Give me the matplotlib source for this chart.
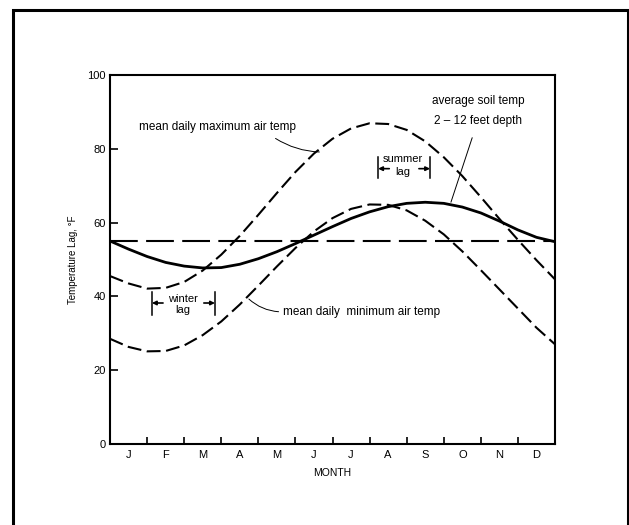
import matplotlib
matplotlib.use("Agg")
import matplotlib.pyplot as plt
from matplotlib.patches import Rectangle

plt.rcParams['font.family'] = ['Liberation Sans', 'DejaVu Sans']
plt.rcParams['lines.scale_dashes'] = False

# time in months from 1 Jan (read every half month)
months_x = [0, 0.5, 1, 1.5, 2, 2.5, 3, 3.5, 4, 4.5, 5, 5.5, 6,
            6.5, 7, 7.5, 8, 8.5, 9, 9.5, 10, 10.5, 11, 11.5, 12]

max_air = [45.5, 43.5, 42.1, 42.3, 43.9, 47.0, 51.3, 56.4, 62.1, 68.0, 73.7, 78.7, 82.7,
           85.5, 86.9, 86.7, 85.1, 82.0, 77.7, 72.6, 66.9, 61.0, 55.3, 49.8, 44.6]
min_air = [28.5, 26.3, 25.1, 25.2, 26.7, 29.5, 33.2, 37.8, 42.9, 48.1, 53.1, 57.6, 61.2,
           63.7, 64.9, 64.8, 63.3, 60.5, 56.8, 52.2, 47.1, 41.9, 36.7, 31.5, 27.0]
soil = [55.0, 52.8, 50.8, 49.2, 48.2, 47.7, 47.8, 48.7, 50.2, 52.1, 54.3, 56.6, 58.9,
        61.1, 62.9, 64.3, 65.2, 65.5, 65.2, 64.2, 62.6, 60.4, 58.0, 56.0, 54.8]
mean_temp = 55

month_labels = ['J', 'F', 'M', 'A', 'M', 'J', 'J', 'A', 'S', 'O', 'N', 'D']

fig = plt.figure(figsize=(6.29, 5.25), dpi=100)
ax = fig.add_axes([0.1749, 0.1543, 0.7075, 0.703])

ax.plot(months_x, max_air, color='black', lw=1.5, dashes=(10, 4))
ax.plot(months_x, min_air, color='black', lw=1.5, dashes=(10, 4))
ax.plot(months_x, soil, color='black', lw=2.0)
ax.plot([0, 12], [mean_temp, mean_temp], color='black', lw=1.5, dashes=(20, 6))

ax.set_xlim(0, 12)
ax.set_ylim(0, 100)
ax.set_yticks([0, 20, 40, 60, 80, 100])
ax.set_xticks(range(1, 12))
ax.set_xticklabels([])
ax.set_xticks([i + 0.5 for i in range(12)], minor=True)
ax.set_xticklabels(month_labels, minor=True)
ax.tick_params(axis='x', which='major', direction='in', length=5, width=1.2)
ax.tick_params(axis='x', which='minor', length=0, labelsize=8, pad=4)
ax.tick_params(axis='y', direction='in', length=5.5, width=1.2, labelsize=8, pad=3)
for s in ax.spines.values():
    s.set_linewidth(1.5)

ax.set_xlabel('MONTH', fontsize=7.5, labelpad=6)
ax.set_ylabel('Temperature Lag, °F', fontsize=7, labelpad=7)

fs = 8.5
# labels with leader lines
ax.text(2.89, 85.9, 'mean daily maximum air temp', ha='center', va='center', fontsize=fs)
ax.annotate('', xy=(5.72, 79.1), xytext=(4.40, 83.2),
            arrowprops=dict(arrowstyle='-', lw=0.7, connectionstyle='arc3,rad=0.15'))

ax.text(9.92, 93.0, 'average soil temp', ha='center', va='center', fontsize=fs)
ax.text(9.92, 87.6, '2 – 12 feet depth', ha='center', va='center', fontsize=fs)
ax.annotate('', xy=(9.17, 64.8), xytext=(9.79, 83.7),
            arrowprops=dict(arrowstyle='-', lw=0.7))

ax.text(4.66, 35.8, 'mean daily  minimum air temp', ha='left', va='center', fontsize=fs)
ax.annotate('', xy=(3.69, 39.8), xytext=(4.62, 35.8),
            arrowprops=dict(arrowstyle='-', lw=0.7, connectionstyle='arc3,rad=-0.2'))

# lag brackets
def lag(x1, x2, y1, y2, ya, txt_x, txt_y1, txt_y2, word):
    ax.plot([x1, x1], [y1, y2], color='black', lw=1.1)
    ax.plot([x2, x2], [y1, y2], color='black', lw=1.1)
    ax.annotate('', xy=(x1, ya), xytext=(x1 + 0.3, ya),
                arrowprops=dict(arrowstyle='-|>', lw=1.2, mutation_scale=6, color='black',
                                shrinkA=0, shrinkB=0))
    ax.annotate('', xy=(x2, ya), xytext=(x2 - 0.3, ya),
                arrowprops=dict(arrowstyle='-|>', lw=1.2, mutation_scale=6, color='black',
                                shrinkA=0, shrinkB=0))
    ax.text(txt_x, txt_y1, word, ha='center', va='center', fontsize=8)
    ax.text(txt_x, txt_y2, 'lag', ha='center', va='center', fontsize=8)

lag(7.23, 8.63, 72.1, 77.8, 74.6, 7.9, 77.3, 73.8, 'summer')
lag(1.13, 2.83, 35.0, 41.2, 38.2, 1.96, 39.4, 36.3, 'winter')

# outer frame of the figure
fig.patches.append(Rectangle((13 / 629, -0.05), 615 / 629, 1.05 - 10 / 525,
                             transform=fig.transFigure, fill=False, lw=2.2,
                             edgecolor='black'))

fig.savefig('out.png', dpi=100)
